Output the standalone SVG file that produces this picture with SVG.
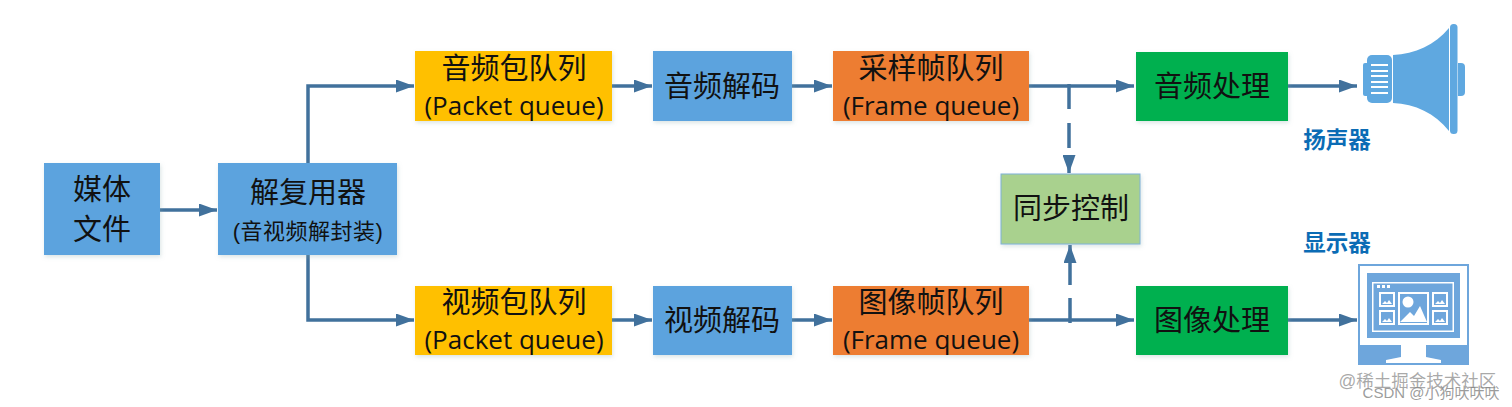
<svg xmlns="http://www.w3.org/2000/svg" width="1512" height="407" viewBox="0 0 1512 407">
<style>
text{font-family:"Liberation Sans","Noto Sans CJK SC",sans-serif;fill:#111;text-anchor:middle}
.b{font-size:29px}.s{font-size:26px;font-family:"Open Sans","Noto Sans CJK SC",sans-serif}
.c{stroke:#41719c;stroke-width:3.5;fill:none}
.blue{fill:#5ba3de}.yel{fill:#ffc000}.org{fill:#ed7d31}.grn{fill:#00b050}
.ic{fill:#5fa8e0}.m{fill:#6ea6dc}.w{fill:#fff}
.lab{font-size:22.500px;font-weight:bold;fill:#0b6cb5}
.wm{font-size:17.500px;fill:#9a9a9a;fill-opacity:.85}
.wm2{font-size:15px;fill:#8a8a8a;fill-opacity:.85}
</style>
<defs>
<marker id="a" markerUnits="userSpaceOnUse" markerWidth="18" markerHeight="13" refX="18" refY="6.5" orient="auto"><path d="M0 0L18 6.5L0 13z" fill="#41719c"/></marker>
<filter id="sh" x="-5%" y="-5%" width="110%" height="115%"><feDropShadow dx="1" dy="2" stdDeviation="2" flood-color="#8aa" flood-opacity=".3"/></filter>
</defs>
<rect width="1512" height="407" fill="#fff"/>
<g id="connectors">
<path class="c" marker-end="url(#a)" d="M159 210H217"/>
<path class="c" marker-end="url(#a)" d="M308 163V86H414"/>
<path class="c" marker-end="url(#a)" d="M308 255V320H414"/>
<path class="c" marker-end="url(#a)" d="M612 86H652"/>
<path class="c" marker-end="url(#a)" d="M792 86H832"/>
<path class="c" marker-end="url(#a)" d="M1029 86H1134"/>
<path class="c" marker-end="url(#a)" d="M1288 86H1357"/>
<path class="c" marker-end="url(#a)" d="M612 320H652"/>
<path class="c" marker-end="url(#a)" d="M792 320H832"/>
<path class="c" marker-end="url(#a)" d="M1029 320H1134"/>
<path class="c" marker-end="url(#a)" d="M1288 320H1357"/>
<path class="c" stroke-dasharray="25 14 25 8 60" marker-end="url(#a)" d="M1069 84V173"/>
<path class="c" stroke-dasharray="25 13 60" marker-end="url(#a)" d="M1070 323V245"/>
</g>
<g id="media"><rect class="blue" x="44" y="163" width="116" height="92" filter="url(#sh)"/><text class="b" x="102" y="200">媒体</text><text class="b" x="102" y="240">文件</text></g>
<g id="demux"><rect class="blue" x="218" y="163" width="179" height="92" filter="url(#sh)"/><text class="b" x="308" y="203">解复用器</text><text x="308" y="239" font-size="22" style="letter-spacing:.5px">(音视频解封装)</text></g>
<g id="apq"><rect class="yel" x="415" y="51" width="197" height="70" filter="url(#sh)"/><text class="b" x="514" y="79">音频包队列</text><text class="s" x="514" y="115">(Packet queue)</text></g>
<g id="adec"><rect class="blue" x="653" y="51" width="139" height="70" filter="url(#sh)"/><text class="b" x="722" y="97">音频解码</text></g>
<g id="afq"><rect class="org" x="833" y="51" width="196" height="70" filter="url(#sh)"/><text class="b" x="931" y="79">采样帧队列</text><text class="s" x="931" y="115">(Frame queue)</text></g>
<g id="aproc"><rect class="grn" x="1136" y="52" width="152" height="69" filter="url(#sh)"/><text class="b" x="1212" y="97">音频处理</text></g>
<g id="sync"><rect x="1001" y="174" width="139" height="70" fill="#a9d18e" stroke="#7fb2d8" stroke-width="1" filter="url(#sh)"/><text class="b" x="1071" y="219">同步控制</text></g>
<g id="vpq"><rect class="yel" x="415" y="286" width="197" height="69" filter="url(#sh)"/><text class="b" x="514" y="313">视频包队列</text><text class="s" x="514" y="349">(Packet queue)</text></g>
<g id="vdec"><rect class="blue" x="653" y="286" width="139" height="69" filter="url(#sh)"/><text class="b" x="722" y="331">视频解码</text></g>
<g id="vfq"><rect class="org" x="833" y="286" width="196" height="69" filter="url(#sh)"/><text class="b" x="931" y="313">图像帧队列</text><text class="s" x="931" y="349">(Frame queue)</text></g>
<g id="vproc"><rect class="grn" x="1136" y="286" width="152" height="69" filter="url(#sh)"/><text class="b" x="1212" y="331">图像处理</text></g>
<g id="speaker">
<rect class="ic" x="1363" y="63" width="6" height="33" rx="2"/>
<rect class="ic" x="1367" y="55" width="25" height="48" rx="5"/>
<path class="ic" d="M1393 55C1415 54 1435 45 1449 28V131C1435 113 1415 104 1393 103Z"/>
<rect class="ic" x="1450" y="24" width="7.500" height="110" rx="3.500"/>
<path class="ic" d="M1458 63H1461Q1465 63 1465 67V92Q1465 96 1461 96H1458Z"/>
<path d="M1371 65H1388M1371 71H1388M1371 76H1388M1371 82H1388M1371 87H1388M1371 93H1388" stroke="#fff" stroke-width="1.800"/>
<text class="lab" x="1337" y="148">扬声器</text>
</g>
<g id="monitor">
<rect class="m" x="1358" y="264" width="111" height="101"/>
<rect class="w" x="1360" y="266" width="107" height="79"/>
<rect class="m" x="1367" y="273" width="93" height="65"/>
<rect class="w" x="1372" y="282" width="82" height="50"/>
<rect class="m" x="1373.500" y="283.500" width="79" height="47"/>
<path class="w" d="M1377 285h3v3h-3zM1382 285h3v3h-3zM1387 285h3v3h-3z"/>
<path class="w" d="M1379 292h16v15h-16zM1379 310h16v15h-16zM1398 292h31v33h-31zM1432 292h16v15h-16zM1432 310h16v15h-16z"/>
<path class="m" d="M1381 294h12v11h-12zM1381 312h12v11h-12zM1400 294h27v29h-27zM1434 294h12v11h-12zM1434 312h12v11h-12z"/>
<circle class="w" cx="1408" cy="302" r="5.500"/>
<path class="w" d="M1400 322L1410 312L1414 316L1420 306L1427 322Z"/>
<path class="w" d="M1382 304l3-3 2 2 2-3 3 4zM1382 322l3-3 2 2 2-3 3 4zM1435 304l3-3 2 2 2-3 3 4zM1435 322l3-3 2 2 2-3 3 4z"/>
<path class="w" d="M1401 345h25v12l15 3v3h-55v-3l15-3z"/>
<text class="lab" x="1337" y="251">显示器</text>
</g>
<text class="wm" x="1417.500" y="387">@稀土掘金技术社区</text>
<text class="wm2" x="1431" y="398">CSDN @小狗吠吠吠</text>
</svg>
